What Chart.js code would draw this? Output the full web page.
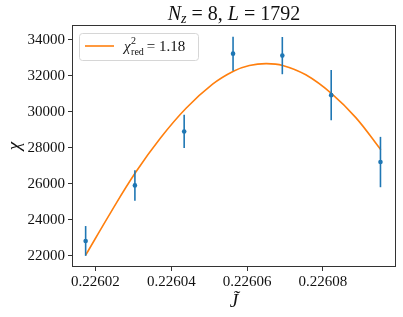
<!DOCTYPE html>
<html>
<head>
<meta charset="utf-8">
<script src="https://cdn.jsdelivr.net/npm/chart.js@4.4.1/dist/chart.umd.min.js"></script>
<style>
html,body{margin:0;padding:0;background:#fff;}
#wrap{width:403px;height:317px;}
</style>
</head>
<body>
<div id="wrap"><canvas id="c" width="403" height="317"></canvas></div>
<script>
// Data points (J~, chi, error)
const jValues = [0.2260174, 0.2260304, 0.2260434, 0.2260563, 0.2260693, 0.2260822, 0.2260952];
const chiValues = [22820, 25910, 28910, 33240, 33130, 30930, 27210];
const chiErrors = [830, 850, 925, 945, 1035, 1400, 1400];
// Fit curve
const fitJ = [0.2260174, 0.2260240, 0.2260306, 0.2260372, 0.2260439, 0.2260509, 0.2260564, 0.2260606, 0.2260650, 0.2260694, 0.2260755, 0.2260823, 0.2260887, 0.2260953];
const fitChi = [22030, 24400, 26640, 28560, 30200, 31540, 32260, 32575, 32685, 32585, 32062, 31020, 29680, 27890];
// Tick labels
const xTicks = [0.22602, 0.22604, 0.22606, 0.22608];
const xTickLabels = ['0.22602', '0.22604', '0.22606', '0.22608'];
const yTicks = [22000, 24000, 26000, 28000, 30000, 32000, 34000];
const legendValue = '1.18';

const BLUE = '#1f77b4', ORANGE = '#ff7f0e';
const SERIF = '"Liberation Serif", "DejaVu Serif", serif';

const overlay = {
  id: 'overlay',
  afterDatasetsDraw(chart) {
    const ctx = chart.ctx, xs = chart.scales.x, ys = chart.scales.y;
    ctx.save();
    ctx.strokeStyle = BLUE; ctx.lineWidth = 1.6;
    for (let i = 0; i < jValues.length; i++) {
      const px = xs.getPixelForValue(jValues[i]);
      ctx.beginPath();
      ctx.moveTo(px, ys.getPixelForValue(chiValues[i] + chiErrors[i]));
      ctx.lineTo(px, ys.getPixelForValue(chiValues[i] - chiErrors[i]));
      ctx.stroke();
    }
    ctx.restore();
  },
  afterDraw(chart) {
    const ctx = chart.ctx, a = chart.chartArea;
    ctx.save();
    ctx.strokeStyle = '#333'; ctx.lineWidth = 1;
    ctx.strokeRect(Math.round(a.left) + 0.5, Math.round(a.top) + 0.5, Math.round(a.right - a.left) - 1, Math.round(a.bottom - a.top) - 1);
    // title
    ctx.fillStyle = '#111';
    ctx.textBaseline = 'alphabetic';
    const fs = 20;
    const parts = [
      {t: 'N', f: 'italic ' + fs + 'px ' + SERIF, dy: 0},
      {t: 'z', f: 'italic ' + Math.round(fs * 0.7) + 'px ' + SERIF, dy: 3},
      {t: ' = 8, ', f: fs + 'px ' + SERIF, dy: 0},
      {t: 'L', f: 'italic ' + fs + 'px ' + SERIF, dy: 0},
      {t: ' = 1792', f: fs + 'px ' + SERIF, dy: 0}
    ];
    let w = 0;
    parts.forEach(p => { ctx.font = p.f; p.w = ctx.measureText(p.t).width; w += p.w; });
    let x = (a.left + a.right) / 2 - w / 2;
    parts.forEach(p => { ctx.font = p.f; ctx.fillText(p.t, x, 20 + p.dy); x += p.w; });
    // legend
    const lx = 79, ly = 33, lw = 119, lh = 27, r = 3;
    ctx.beginPath();
    ctx.roundRect(lx + 0.5, ly + 0.5, lw, lh, r);
    ctx.fillStyle = 'rgba(255,255,255,0.8)'; ctx.fill();
    ctx.strokeStyle = '#d6d6d6'; ctx.lineWidth = 1; ctx.stroke();
    ctx.strokeStyle = ORANGE; ctx.lineWidth = 1.6;
    ctx.beginPath(); ctx.moveTo(85, 46); ctx.lineTo(114, 46); ctx.stroke();
    ctx.fillStyle = '#111';
    const lf = 15;
    let tx = 124;
    ctx.font = 'italic ' + lf + 'px ' + SERIF; ctx.fillText('χ', tx, 51);
    tx += ctx.measureText('χ').width + 0.5;
    ctx.font = '10px ' + SERIF; ctx.fillText('2', tx, 44);
    ctx.fillText('red', tx, 55);
    tx += ctx.measureText('red').width + 3;
    ctx.font = lf + 'px ' + SERIF; ctx.fillText('= ' + legendValue, tx, 51);
    ctx.restore();
  }
};

new Chart(document.getElementById('c'), {
  data: {
    datasets: [
      {
        type: 'line',
        label: 'fit',
        data: fitJ.map((j, i) => ({x: j, y: fitChi[i]})),
        borderColor: ORANGE,
        borderWidth: 1.6,
        pointRadius: 0,
        tension: 0.4,
        fill: false,
        order: 2
      },
      {
        type: 'scatter',
        label: 'data',
        data: jValues.map((j, i) => ({x: j, y: chiValues[i]})),
        backgroundColor: BLUE,
        borderColor: BLUE,
        pointRadius: 2.3,
        borderWidth: 0,
        order: 1
      }
    ]
  },
  options: {
    responsive: false,
    animation: false,
    layout: {padding: {top: 25, right: 7, bottom: 0, left: 0}},
    plugins: {legend: {display: false}, tooltip: {enabled: false}, title: {display: false}},
    scales: {
      x: {
        type: 'linear',
        min: 0.2260138,
        max: 0.2260993,
        afterFit(s) { s.height = 50; },
        afterBuildTicks(s) { s.ticks = xTicks.map(v => ({value: v})); },
        ticks: {
          callback: (v, i) => xTickLabels[i],
          font: {family: SERIF, size: 15},
          color: '#111',
          padding: 2,
          maxRotation: 0,
          autoSkip: false
        },
        grid: {drawOnChartArea: false, tickLength: 4, color: '#333', tickWidth: 1},
        border: {display: false},
        title: {display: true, text: 'J̃', font: {family: SERIF, size: 19, style: 'italic'}, color: '#111', padding: {top: 0, bottom: 4}}
      },
      y: {
        type: 'linear',
        min: 21372,
        max: 34833,
        afterFit(s) { s.width = 72; },
        afterBuildTicks(s) { s.ticks = yTicks.map(v => ({value: v})); },
        ticks: {
          callback: v => String(v),
          font: {family: SERIF, size: 15},
          color: '#111',
          padding: 3,
          autoSkip: false
        },
        grid: {drawOnChartArea: false, tickLength: 4, color: '#333', tickWidth: 1},
        border: {display: false},
        title: {display: true, text: 'χ', font: {family: SERIF, size: 19, style: 'italic'}, color: '#111', padding: {top: 4, bottom: 0}}
      }
    }
  },
  plugins: [overlay]
});
</script>
</body>
</html>
